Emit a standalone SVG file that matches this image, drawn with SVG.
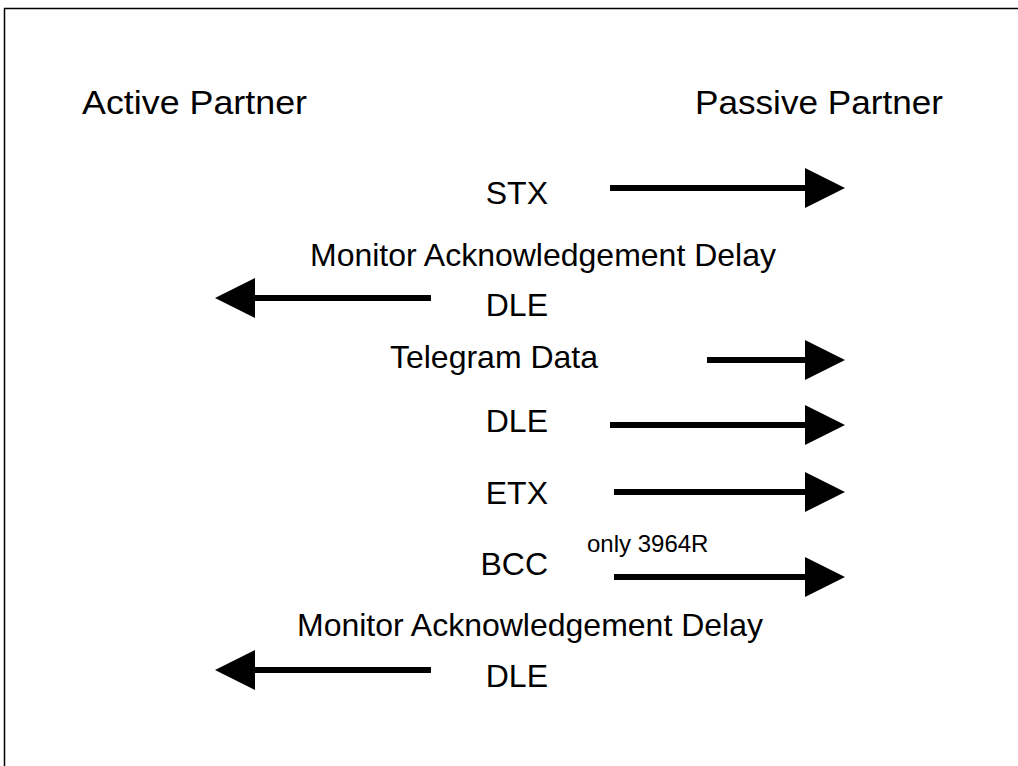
<svg xmlns="http://www.w3.org/2000/svg" width="1018" height="766" viewBox="0 0 1018 766">
<style>
  text { font-family: "Liberation Sans", Arial, sans-serif; fill: #000; }
  .hdr { font-size: 34px; }
  .lbl { font-size: 32px; }
  .sm { font-size: 24px; }
  .arr { stroke: #000; stroke-width: 6; fill: none; marker-end: url(#head); }
</style>
<defs>
  <marker id="head" markerUnits="userSpaceOnUse" markerWidth="40" markerHeight="40" refX="0" refY="20" orient="auto" viewBox="0 0 40 40">
    <path d="M0,0 L40,20 L0,40 Z" fill="#000"/>
  </marker>
</defs>
<rect x="4.5" y="8.5" width="1030" height="780" fill="#fff" stroke="#000" stroke-width="1.5"/>
<g id="active-partner"><text class="hdr" x="82" y="114" textLength="225" lengthAdjust="spacingAndGlyphs">Active Partner</text></g>
<g id="passive-partner"><text class="hdr" x="695" y="114" textLength="248" lengthAdjust="spacingAndGlyphs">Passive Partner</text></g>
<g id="labels">
  <text class="lbl" x="548" y="204" text-anchor="end">STX</text>
  <text class="lbl" x="543" y="266" text-anchor="middle">Monitor Acknowledgement Delay</text>
  <text class="lbl" x="548" y="316" text-anchor="end">DLE</text>
  <text class="lbl" x="494" y="368" text-anchor="middle">Telegram Data</text>
  <text class="lbl" x="548" y="432" text-anchor="end">DLE</text>
  <text class="lbl" x="548" y="504" text-anchor="end">ETX</text>
  <text class="sm" x="587" y="552">only 3964R</text>
  <text class="lbl" x="548" y="575" text-anchor="end">BCC</text>
  <text class="lbl" x="530" y="636" text-anchor="middle">Monitor Acknowledgement Delay</text>
  <text class="lbl" x="548" y="687" text-anchor="end">DLE</text>
</g>
<g id="connectors">
  <line class="arr" x1="610" y1="188" x2="805" y2="188"/>
  <line class="arr" x1="431" y1="298" x2="255" y2="298"/>
  <line class="arr" x1="707" y1="360" x2="805" y2="360"/>
  <line class="arr" x1="610" y1="425" x2="805" y2="425"/>
  <line class="arr" x1="614" y1="492" x2="805" y2="492"/>
  <line class="arr" x1="614" y1="577" x2="805" y2="577"/>
  <line class="arr" x1="431" y1="670" x2="255" y2="670"/>
</g>
</svg>
